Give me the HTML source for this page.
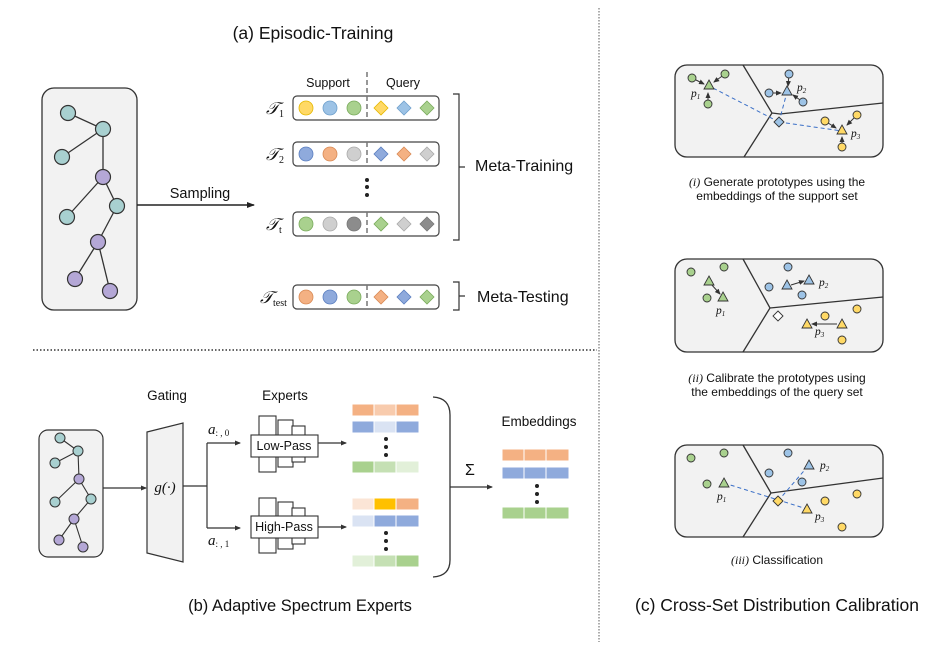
<!DOCTYPE html>
<html><head><meta charset="utf-8"><style>
html,body{margin:0;padding:0;background:#fff;}
svg{display:block;font-family:"Liberation Sans","DejaVu Sans",sans-serif;}
.t{fill:#111;}
.m{font-family:"Liberation Serif",serif;font-style:italic;}
</style></head><body>
<svg width="947" height="669" viewBox="0 0 947 669" xmlns="http://www.w3.org/2000/svg">
<defs>
<marker id="ar" markerWidth="8" markerHeight="8" refX="7" refY="4" orient="auto" markerUnits="userSpaceOnUse"><path d="M0,1 L8,4 L0,7 Z" fill="#222"/></marker>
<marker id="sa" markerWidth="6" markerHeight="6" refX="5" refY="3" orient="auto" markerUnits="userSpaceOnUse"><path d="M0,0.5 L6,3 L0,5.5 Z" fill="#333"/></marker>
</defs>

<!-- separators -->
<line x1="599" y1="8" x2="599" y2="642" stroke="#777" stroke-width="1.2" stroke-dasharray="1.5,1.5"/>
<line x1="33" y1="350" x2="597" y2="350" stroke="#333" stroke-width="1.5" stroke-dasharray="1.5,2"/>

<!-- (a) -->
<text x="313" y="39" text-anchor="middle" font-size="17.5" class="t">(a)  Episodic-Training</text>
<rect x="42" y="88" width="95" height="222" rx="12" fill="#f2f2f2" stroke="#333" stroke-width="1.3"/>
<g stroke="#333" stroke-width="1.3">
<line x1="68" y1="113" x2="103" y2="129"/><line x1="103" y1="129" x2="62" y2="157"/><line x1="103" y1="129" x2="103" y2="177"/>
<line x1="103" y1="177" x2="67" y2="217"/><line x1="103" y1="177" x2="117" y2="206"/><line x1="117" y1="206" x2="98" y2="242"/>
<line x1="98" y1="242" x2="75" y2="279"/><line x1="98" y1="242" x2="110" y2="291"/>
</g>
<g stroke="#333" stroke-width="1.2">
<circle cx="68" cy="113" r="7.5" fill="#a8d0d0"/><circle cx="103" cy="129" r="7.5" fill="#a8d0d0"/><circle cx="62" cy="157" r="7.5" fill="#a8d0d0"/>
<circle cx="103" cy="177" r="7.5" fill="#b4a7d6"/><circle cx="117" cy="206" r="7.5" fill="#a8d0d0"/><circle cx="67" cy="217" r="7.5" fill="#a8d0d0"/>
<circle cx="98" cy="242" r="7.5" fill="#b4a7d6"/><circle cx="75" cy="279" r="7.5" fill="#b4a7d6"/><circle cx="110" cy="291" r="7.5" fill="#b4a7d6"/>
</g>
<line x1="137" y1="205" x2="254" y2="205" stroke="#222" stroke-width="1.6" marker-end="url(#ar)"/>
<text x="200" y="198" text-anchor="middle" font-size="14.5" class="t">Sampling</text>

<text x="328" y="87" text-anchor="middle" font-size="12.5" class="t">Support</text>
<text x="403" y="87" text-anchor="middle" font-size="12.5" class="t">Query</text>
<line x1="367" y1="72" x2="367" y2="96" stroke="#777" stroke-width="1.5" stroke-dasharray="5,3"/>

<g stroke="#444" stroke-width="1.2" fill="#fff">
<rect x="293" y="96" width="146" height="24" rx="4"/>
<rect x="293" y="142" width="146" height="24" rx="4"/>
<rect x="293" y="212" width="146" height="24" rx="4"/>
<rect x="293" y="285" width="146" height="24" rx="4"/>
</g>
<g stroke="#777" stroke-width="1.5" stroke-dasharray="5,3">
<line x1="367" y1="96" x2="367" y2="120"/><line x1="367" y1="142" x2="367" y2="166"/>
<line x1="367" y1="212" x2="367" y2="236"/><line x1="367" y1="285" x2="367" y2="309"/>
</g>
<g stroke-width="0.8">
<circle cx="306" cy="108" r="7" fill="#ffd966" stroke="#e6b800"/><circle cx="330" cy="108" r="7" fill="#9dc3e6" stroke="#6fa0cc"/><circle cx="354" cy="108" r="7" fill="#a9d18e" stroke="#7aab5c"/>
<path d="M381,101 l7,7 l-7,7 l-7,-7z" fill="#ffd966" stroke="#e6b800"/><path d="M404,101 l7,7 l-7,7 l-7,-7z" fill="#9dc3e6" stroke="#6fa0cc"/><path d="M427,101 l7,7 l-7,7 l-7,-7z" fill="#a9d18e" stroke="#7aab5c"/>
<circle cx="306" cy="154" r="7" fill="#8faadc" stroke="#5b7fc0"/><circle cx="330" cy="154" r="7" fill="#f4b183" stroke="#d98a55"/><circle cx="354" cy="154" r="7" fill="#cfcfcf" stroke="#aaa"/>
<path d="M381,147 l7,7 l-7,7 l-7,-7z" fill="#8faadc" stroke="#5b7fc0"/><path d="M404,147 l7,7 l-7,7 l-7,-7z" fill="#f4b183" stroke="#d98a55"/><path d="M427,147 l7,7 l-7,7 l-7,-7z" fill="#cfcfcf" stroke="#aaa"/>
<circle cx="306" cy="224" r="7" fill="#a9d18e" stroke="#7aab5c"/><circle cx="330" cy="224" r="7" fill="#cfcfcf" stroke="#aaa"/><circle cx="354" cy="224" r="7" fill="#8c8c8c" stroke="#777"/>
<path d="M381,217 l7,7 l-7,7 l-7,-7z" fill="#a9d18e" stroke="#7aab5c"/><path d="M404,217 l7,7 l-7,7 l-7,-7z" fill="#cfcfcf" stroke="#aaa"/><path d="M427,217 l7,7 l-7,7 l-7,-7z" fill="#8c8c8c" stroke="#777"/>
<circle cx="306" cy="297" r="7" fill="#f4b183" stroke="#d98a55"/><circle cx="330" cy="297" r="7" fill="#8faadc" stroke="#5b7fc0"/><circle cx="354" cy="297" r="7" fill="#a9d18e" stroke="#7aab5c"/>
<path d="M381,290 l7,7 l-7,7 l-7,-7z" fill="#f4b183" stroke="#d98a55"/><path d="M404,290 l7,7 l-7,7 l-7,-7z" fill="#8faadc" stroke="#5b7fc0"/><path d="M427,290 l7,7 l-7,7 l-7,-7z" fill="#a9d18e" stroke="#7aab5c"/>
</g>
<g class="t m" font-size="17">
<text x="266" y="114">𝒯<tspan font-size="10" font-style="normal" dy="3">1</tspan></text>
<text x="266" y="160">𝒯<tspan font-size="10" font-style="normal" dy="3">2</tspan></text>
<text x="266" y="230">𝒯<tspan font-size="10" font-style="normal" dy="3">t</tspan></text>
<text x="260" y="303">𝒯<tspan font-size="10" font-style="normal" dy="3">test</tspan></text>
</g>
<circle cx="367" cy="180" r="2" fill="#222"/><circle cx="367" cy="187" r="2" fill="#222"/><circle cx="367" cy="195" r="2" fill="#222"/>
<path d="M453,94 h6 v146 h-6 M459,167 h6" fill="none" stroke="#333" stroke-width="1.2"/>
<text x="475" y="171" font-size="16" class="t">Meta-Training</text>
<path d="M453,282 h6 v28 h-6 M459,296 h6" fill="none" stroke="#333" stroke-width="1.2"/>
<text x="477" y="302" font-size="16" class="t">Meta-Testing</text>

<!-- (b) -->
<rect x="39" y="430" width="64" height="127" rx="9" fill="#f2f2f2" stroke="#333" stroke-width="1.2"/>
<g stroke="#333" stroke-width="1.1">
<line x1="60" y1="438" x2="78" y2="451"/><line x1="78" y1="451" x2="55" y2="463"/><line x1="78" y1="451" x2="79" y2="479"/>
<line x1="79" y1="479" x2="55" y2="502"/><line x1="79" y1="479" x2="91" y2="499"/><line x1="91" y1="499" x2="74" y2="519"/>
<line x1="74" y1="519" x2="59" y2="540"/><line x1="74" y1="519" x2="83" y2="547"/>
</g>
<g stroke="#333" stroke-width="1">
<circle cx="60" cy="438" r="5" fill="#a8d0d0"/><circle cx="78" cy="451" r="5" fill="#a8d0d0"/><circle cx="55" cy="463" r="5" fill="#a8d0d0"/>
<circle cx="79" cy="479" r="5" fill="#b4a7d6"/><circle cx="91" cy="499" r="5" fill="#a8d0d0"/><circle cx="55" cy="502" r="5" fill="#a8d0d0"/>
<circle cx="74" cy="519" r="5" fill="#b4a7d6"/><circle cx="59" cy="540" r="5" fill="#b4a7d6"/><circle cx="83" cy="547" r="5" fill="#b4a7d6"/>
</g>
<line x1="103" y1="488" x2="146" y2="488" stroke="#333" stroke-width="1.2" marker-end="url(#sa)"/>
<text x="167" y="400" text-anchor="middle" font-size="13.5" class="t">Gating</text>
<path d="M147,432 L183,423 L183,562 L147,553 Z" fill="#f2f2f2" stroke="#333" stroke-width="1.2"/>
<text x="165" y="492" text-anchor="middle" font-size="15" class="t m">g(·)</text>
<path d="M183,486 H207 M207,443 V528" fill="none" stroke="#333" stroke-width="1.2"/>
<line x1="207" y1="443" x2="240" y2="443" stroke="#333" stroke-width="1.2" marker-end="url(#sa)"/>
<line x1="207" y1="528" x2="240" y2="528" stroke="#333" stroke-width="1.2" marker-end="url(#sa)"/>
<text x="208" y="434" font-size="15" class="t m">a<tspan font-size="9" font-style="normal" dy="2">: , 0</tspan></text>
<text x="208" y="545" font-size="15" class="t m">a<tspan font-size="9" font-style="normal" dy="2">: , 1</tspan></text>
<text x="285" y="400" text-anchor="middle" font-size="13.5" class="t">Experts</text>
<g fill="#fff" stroke="#333" stroke-width="1.1">
<rect x="259" y="416" width="17" height="56"/><rect x="278" y="420" width="15" height="47"/><rect x="292" y="426" width="13" height="36"/>
<rect x="251" y="435" width="67" height="22"/>
<rect x="259" y="498" width="17" height="55"/><rect x="278" y="502" width="15" height="47"/><rect x="292" y="508" width="13" height="36"/>
<rect x="251" y="516" width="67" height="22"/>
</g>
<text x="284" y="450" text-anchor="middle" font-size="12.5" class="t">Low-Pass</text>
<text x="284" y="531" text-anchor="middle" font-size="12.5" class="t">High-Pass</text>
<line x1="318" y1="443" x2="346" y2="443" stroke="#333" stroke-width="1.2" marker-end="url(#sa)"/>
<line x1="318" y1="527" x2="346" y2="527" stroke="#333" stroke-width="1.2" marker-end="url(#sa)"/>
<g stroke="#fff" stroke-width="1">
<rect x="352" y="404" width="22" height="12" fill="#f4b183"/><rect x="374" y="404" width="22" height="12" fill="#f8cbad"/><rect x="396" y="404" width="23" height="12" fill="#f4b183"/>
<rect x="352" y="421" width="22" height="12" fill="#8faadc"/><rect x="374" y="421" width="22" height="12" fill="#dae3f3"/><rect x="396" y="421" width="23" height="12" fill="#8faadc"/>
<rect x="352" y="461" width="22" height="12" fill="#a9d18e"/><rect x="374" y="461" width="22" height="12" fill="#c5e0b4"/><rect x="396" y="461" width="23" height="12" fill="#e2f0d9"/>
<rect x="352" y="498" width="22" height="12" fill="#fbe5d6"/><rect x="374" y="498" width="22" height="12" fill="#ffc000"/><rect x="396" y="498" width="23" height="12" fill="#f4b183"/>
<rect x="352" y="515" width="22" height="12" fill="#dae3f3"/><rect x="374" y="515" width="22" height="12" fill="#8faadc"/><rect x="396" y="515" width="23" height="12" fill="#8faadc"/>
<rect x="352" y="555" width="22" height="12" fill="#e2f0d9"/><rect x="374" y="555" width="22" height="12" fill="#c5e0b4"/><rect x="396" y="555" width="23" height="12" fill="#a9d18e"/>
<rect x="502" y="449" width="22" height="12" fill="#f4b183"/><rect x="524" y="449" width="22" height="12" fill="#f4b183"/><rect x="546" y="449" width="23" height="12" fill="#f4b183"/>
<rect x="502" y="467" width="22" height="12" fill="#8faadc"/><rect x="524" y="467" width="22" height="12" fill="#8faadc"/><rect x="546" y="467" width="23" height="12" fill="#8faadc"/>
<rect x="502" y="507" width="22" height="12" fill="#a9d18e"/><rect x="524" y="507" width="22" height="12" fill="#a9d18e"/><rect x="546" y="507" width="23" height="12" fill="#a9d18e"/>
</g>
<g fill="#222">
<circle cx="386" cy="439" r="2"/><circle cx="386" cy="447" r="2"/><circle cx="386" cy="455" r="2"/>
<circle cx="386" cy="533" r="2"/><circle cx="386" cy="541" r="2"/><circle cx="386" cy="549" r="2"/>
<circle cx="537" cy="486" r="2"/><circle cx="537" cy="494" r="2"/><circle cx="537" cy="502" r="2"/>
</g>
<path d="M433,397 Q450,398 450,415 V560 Q450,576 433,577" fill="none" stroke="#333" stroke-width="1.3"/>
<line x1="450" y1="487" x2="492" y2="487" stroke="#333" stroke-width="1.3" marker-end="url(#sa)"/>
<text x="470" y="475" text-anchor="middle" font-size="16" class="t">Σ</text>
<text x="539" y="426" text-anchor="middle" font-size="13.5" class="t">Embeddings</text>
<text x="300" y="611" text-anchor="middle" font-size="16.5" class="t">(b) Adaptive Spectrum Experts</text>

<!-- (c) -->
<text x="777" y="611" text-anchor="middle" font-size="17.5" class="t">(c) Cross-Set Distribution Calibration</text>
<g fill="#f2f2f2" stroke="#333" stroke-width="1.3">
<rect x="675" y="65" width="208" height="92" rx="12"/>
<rect x="675" y="259" width="208" height="93" rx="12"/>
<rect x="675" y="445" width="208" height="92" rx="12"/>
</g>
<g fill="none" stroke="#333" stroke-width="1.3">
<path d="M743,65 L772,113 L744,157 M772,113 L780,114 L883,103"/>
<path d="M743,259 L770,308 L743,352 M770,308 L883,297"/>
<path d="M743,445 L771,493 L743,537 M771,493 L883,478"/>
</g>
<g stroke="#3a6fc7" stroke-width="1" stroke-dasharray="4,3">
<line x1="779" y1="122" x2="709" y2="86"/><line x1="779" y1="122" x2="787" y2="92"/><line x1="779" y1="122" x2="842" y2="131"/>
</g>
<g stroke="#333" stroke-width="1">
<line x1="692" y1="78" x2="704" y2="84" marker-end="url(#sa)"/><line x1="725" y1="74" x2="714" y2="82" marker-end="url(#sa)"/><line x1="708" y1="104" x2="708" y2="93" marker-end="url(#sa)"/>
<line x1="789" y1="74" x2="788" y2="86" marker-end="url(#sa)"/><line x1="769" y1="93" x2="781" y2="93" marker-end="url(#sa)"/><line x1="803" y1="102" x2="793" y2="95" marker-end="url(#sa)"/>
<line x1="825" y1="121" x2="836" y2="128" marker-end="url(#sa)"/><line x1="857" y1="115" x2="847" y2="125" marker-end="url(#sa)"/><line x1="842" y1="147" x2="842" y2="137" marker-end="url(#sa)"/>
</g>
<g stroke="#333" stroke-width="0.9">
<circle cx="692" cy="78" r="4" fill="#a9d18e"/><circle cx="725" cy="74" r="4" fill="#a9d18e"/><circle cx="708" cy="104" r="4" fill="#a9d18e"/>
<circle cx="789" cy="74" r="4" fill="#9dc3e6"/><circle cx="769" cy="93" r="4" fill="#9dc3e6"/><circle cx="803" cy="102" r="4" fill="#9dc3e6"/>
<circle cx="825" cy="121" r="4" fill="#ffd966"/><circle cx="857" cy="115" r="4" fill="#ffd966"/><circle cx="842" cy="147" r="4" fill="#ffd966"/>
<path d="M709,80 l5,9 h-10z" fill="#a9d18e"/><path d="M787,86 l5,9 h-10z" fill="#9dc3e6"/><path d="M842,125 l5,9 h-10z" fill="#ffd966"/>
<path d="M779,117 l5,5 l-5,5 l-5,-5z" fill="#9dc3e6"/>
</g>
<g class="t m" font-size="11.5">
<text x="691" y="97">p<tspan font-size="7" dy="2">1</tspan></text>
<text x="797" y="91">p<tspan font-size="7" dy="2">2</tspan></text>
<text x="851" y="137">p<tspan font-size="7" dy="2">3</tspan></text>
</g>
<text x="777" y="186" text-anchor="middle" font-size="12" class="t"><tspan class="m">(i)</tspan> Generate prototypes using the</text>
<text x="777" y="200" text-anchor="middle" font-size="12" class="t">embeddings of the support set</text>
<g stroke="#333" stroke-width="1">
<line x1="711" y1="284" x2="720" y2="294" marker-end="url(#sa)"/>
<line x1="791" y1="285" x2="804" y2="281" marker-end="url(#sa)"/>
<line x1="837" y1="324" x2="812" y2="324" marker-end="url(#sa)"/>
</g>
<g stroke="#333" stroke-width="0.9">
<circle cx="691" cy="272" r="4" fill="#a9d18e"/><circle cx="724" cy="267" r="4" fill="#a9d18e"/><circle cx="707" cy="298" r="4" fill="#a9d18e"/>
<circle cx="788" cy="267" r="4" fill="#9dc3e6"/><circle cx="769" cy="287" r="4" fill="#9dc3e6"/><circle cx="802" cy="295" r="4" fill="#9dc3e6"/>
<circle cx="825" cy="316" r="4" fill="#ffd966"/><circle cx="857" cy="309" r="4" fill="#ffd966"/><circle cx="842" cy="340" r="4" fill="#ffd966"/>
<path d="M709,276 l5,9 h-10z" fill="#a9d18e"/><path d="M723,292 l5,9 h-10z" fill="#a9d18e"/>
<path d="M787,280 l5,9 h-10z" fill="#9dc3e6"/><path d="M809,275 l5,9 h-10z" fill="#9dc3e6"/>
<path d="M807,319 l5,9 h-10z" fill="#ffd966"/><path d="M842,319 l5,9 h-10z" fill="#ffd966"/>
<path d="M778,311 l5,5 l-5,5 l-5,-5z" fill="#fff"/>
</g>
<g class="t m" font-size="11.5">
<text x="716" y="314">p<tspan font-size="7" dy="2">1</tspan></text>
<text x="819" y="286">p<tspan font-size="7" dy="2">2</tspan></text>
<text x="815" y="335">p<tspan font-size="7" dy="2">3</tspan></text>
</g>
<text x="777" y="382" text-anchor="middle" font-size="12" class="t"><tspan class="m">(ii)</tspan> Calibrate the prototypes using</text>
<text x="777" y="396" text-anchor="middle" font-size="12" class="t">the embeddings of the query set</text>
<g stroke="#3a6fc7" stroke-width="1" stroke-dasharray="4,3">
<line x1="724" y1="483" x2="807" y2="509"/><line x1="778" y1="501" x2="809" y2="465"/>
</g>
<g stroke="#333" stroke-width="0.9">
<circle cx="691" cy="458" r="4" fill="#a9d18e"/><circle cx="724" cy="453" r="4" fill="#a9d18e"/><circle cx="707" cy="484" r="4" fill="#a9d18e"/>
<circle cx="788" cy="453" r="4" fill="#9dc3e6"/><circle cx="769" cy="473" r="4" fill="#9dc3e6"/><circle cx="802" cy="482" r="4" fill="#9dc3e6"/>
<circle cx="825" cy="501" r="4" fill="#ffd966"/><circle cx="857" cy="494" r="4" fill="#ffd966"/><circle cx="842" cy="527" r="4" fill="#ffd966"/>
<path d="M724,478 l5,9 h-10z" fill="#a9d18e"/><path d="M809,460 l5,9 h-10z" fill="#9dc3e6"/><path d="M807,504 l5,9 h-10z" fill="#ffd966"/>
<path d="M778,496 l5,5 l-5,5 l-5,-5z" fill="#ffd966"/>
</g>
<g class="t m" font-size="11.5">
<text x="717" y="500">p<tspan font-size="7" dy="2">1</tspan></text>
<text x="820" y="469">p<tspan font-size="7" dy="2">2</tspan></text>
<text x="815" y="520">p<tspan font-size="7" dy="2">3</tspan></text>
</g>
<text x="777" y="564" text-anchor="middle" font-size="12" class="t"><tspan class="m">(iii)</tspan> Classification</text>
</svg>
</body></html>
